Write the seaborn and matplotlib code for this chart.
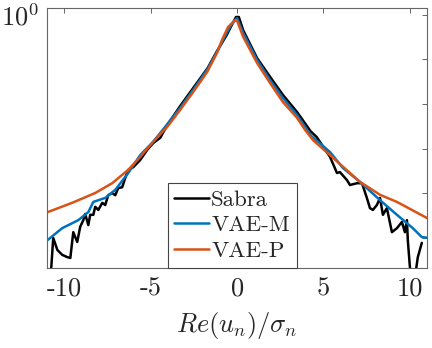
import numpy as np
import pandas as pd
import seaborn as sns
import matplotlib.pyplot as plt

# values (x = Re(u_n)/sigma_n, y = log10 of the pdf)
sabra_x = [-10.87, -10.75, -10.64, -10.40, -10.12, -9.83, -9.65, -9.48, -9.25, -9.08,
           -8.90, -8.79, -8.61, -8.50, -8.32, -8.21, -8.03, -7.80, -7.63, -7.46,
           -7.23, -7.05, -6.88, -6.65, -6.47, -6.30, -6.01, -5.61, -5.20, -4.86,
           -4.45, -4.0, -3.3, -2.5, -1.7, -1.16, -0.6, -0.3, -0.06, 0.1,
           0.35, 1.16, 1.91, 2.66, 3.47, 4.25, 4.6, 5.0, 5.38, 5.78,
           5.95, 6.36, 6.53, 6.94, 7.23, 7.51, 7.69, 7.86, 8.09, 8.27,
           8.44, 8.67, 8.96, 9.25, 9.54, 9.71, 9.83, 9.88, 10.0, 10.1,
           10.29, 10.46, 10.69]
sabra_log = [-5.9, -5.66, -5.01, -5.28, -5.39, -5.44, -5.46, -4.88, -5.10, -4.76,
             -4.61, -4.47, -4.72, -4.49, -4.49, -4.31, -4.38, -4.22, -4.27, -4.05,
             -4.00, -4.05, -3.89, -3.87, -3.66, -3.48, -3.42, -3.26, -3.03, -2.88,
             -2.76, -2.45, -2.05, -1.62, -1.19, -0.81, -0.45, -0.22, -0.045, -0.045,
             -0.34, -0.97, -1.39, -1.80, -2.18, -2.61, -2.74, -2.97, -3.19, -3.55,
             -3.53, -3.71, -3.82, -3.78, -3.78, -4.11, -4.34, -4.38, -4.27, -4.11,
             -4.49, -4.34, -4.88, -4.79, -4.65, -4.88, -4.61, -5.06, -5.66, -5.9,
             -5.9, -5.44, -5.12]

vaem_x = [-11.1, -10.12, -9.19, -8.61, -8.32, -7.63, -7.05, -6.30, -5.61, -4.86,
          -4.3, -3.3, -2.5, -1.7, -1.16, -0.6, -0.3, 0.0, 0.35, 1.16,
          1.91, 2.66, 3.47, 4.3, 5.38, 6.13, 7.11, 8.27, 9.25, 10.17,
          10.69, 11.1]
vaem_log = [-5.10, -4.79, -4.61, -4.43, -4.20, -4.11, -3.93, -3.55, -3.15, -2.85,
            -2.58, -2.09, -1.66, -1.21, -0.83, -0.40, -0.20, -0.07, -0.40, -1.01,
            -1.46, -1.87, -2.25, -2.72, -3.08, -3.44, -3.75, -4.16, -4.49, -4.79,
            -4.99, -5.01]

vaep_x = [-11.1, -9.54, -8.21, -7.23, -6.30, -5.61, -4.86, -4.3, -4.05, -3.29,
          -2.54, -1.73, -1.16, -0.87, -0.52, -0.1, 0.0, 0.35, 1.16, 1.91,
          2.66, 3.47, 3.93, 4.39, 5.38, 7.11, 8.27, 9.25, 10.98, 11.1]
vaep_log = [-4.45, -4.22, -4.00, -3.78, -3.48, -3.19, -2.85, -2.62, -2.52, -2.13,
            -1.73, -1.28, -0.85, -0.56, -0.27, -0.11, -0.13, -0.49, -1.08, -1.53,
            -1.96, -2.31, -2.58, -2.81, -3.15, -3.75, -4.04, -4.20, -4.56, -4.57]

models = ['Sabra', 'VAE-M', 'VAE-P']
colors = ['black', '#0072BD', '#D95319']
xtick_vals = [-10, -5, 0, 5, 10]
xtick_labels = ['-10', '-5', '0', '5', '10']

df = pd.concat([
    pd.DataFrame({'x': sabra_x, 'pdf': 10 ** np.array(sabra_log), 'model': 'Sabra'}),
    pd.DataFrame({'x': vaem_x, 'pdf': 10 ** np.array(vaem_log), 'model': 'VAE-M'}),
    pd.DataFrame({'x': vaep_x, 'pdf': 10 ** np.array(vaep_log), 'model': 'VAE-P'}),
])

sns.set_style('white')
plt.rcParams['font.family'] = ['cmr10', 'DejaVu Serif']
plt.rcParams['mathtext.fontset'] = 'cm'
plt.rcParams['axes.unicode_minus'] = False
plt.rcParams['axes.formatter.use_mathtext'] = True

fig = plt.figure(figsize=(4.32, 3.48), dpi=100)
ax = fig.add_axes([0.1088, 0.2299, 0.88, 0.7471])

sns.lineplot(data=df, x='x', y='pdf', hue='model', hue_order=models,
             palette=colors, estimator=None, linewidth=1.8, ax=ax)

ax.set_yscale('log')
ax.set_xlim(-11, 11)
ax.set_ylim(10 ** -5.685, 10 ** 0.157)
ax.set_yticks([10.0 ** k for k in range(-5, 1)])
ax.set_yticklabels(['', '', '', '', '', '$10^0$'])
ax.yaxis.set_minor_locator(plt.NullLocator())
ax.set_xticks(xtick_vals)
ax.set_xticklabels(xtick_labels)

for s in ax.spines.values():
    s.set_color('#666666')
    s.set_linewidth(0.8)
ax.tick_params(direction='in', length=3.5, width=0.7, color='#666666',
               top=True, right=True, labelsize=19, pad=6)
ax.set_xlabel('$Re(u_n)/\\sigma_n$', fontsize=19, labelpad=7)
ax.set_ylabel('')

leg = ax.legend(loc='lower center', bbox_to_anchor=(0.487, 0.0), borderaxespad=0,
                fontsize=16.5, frameon=True, fancybox=False, framealpha=1,
                handlelength=1.5, handletextpad=0.1, labelspacing=0.25,
                borderpad=0.3)
leg.get_frame().set_edgecolor('#444444')
leg.get_frame().set_linewidth(0.8)

plt.savefig('out.png', dpi=100)
